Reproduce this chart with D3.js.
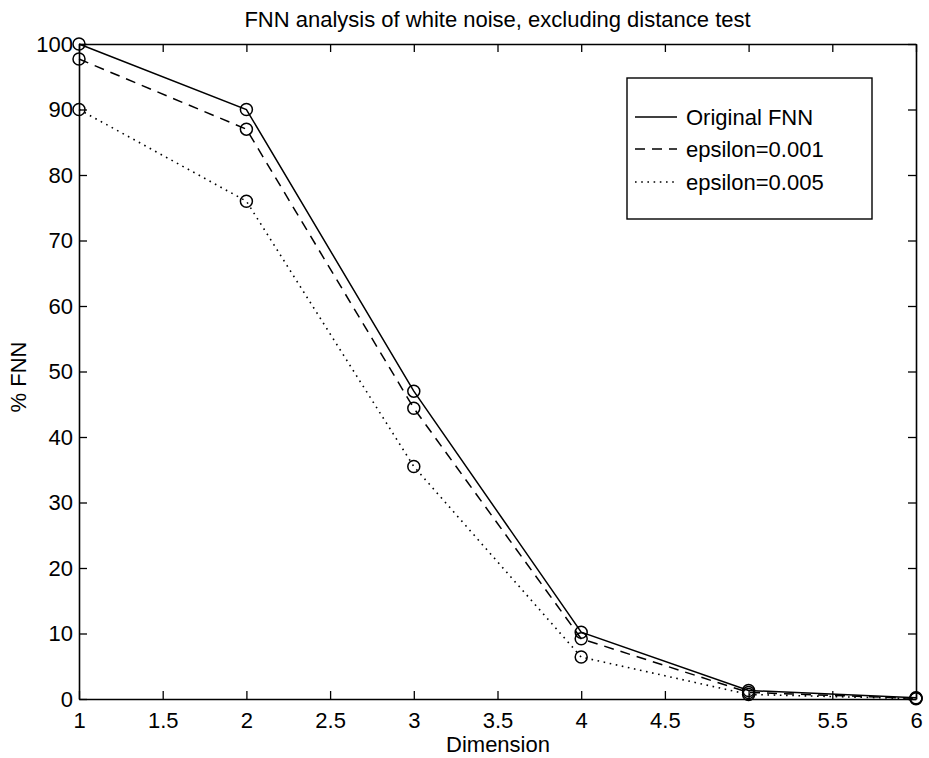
<!DOCTYPE html>
<html><head><meta charset="utf-8">
<script src="https://cdn.jsdelivr.net/npm/d3@7"></script>
<style>body{margin:0;background:#fff}svg{display:block}text{font-family:"Liberation Sans",Arial,Helvetica,sans-serif;fill:#000}</style>
</head><body>
<script>
const dimensions = [1, 2, 3, 4, 5, 6];
const originalFNN = [100, 90, 47, 10.2, 1.3, 0.2];
const eps001 = [97.7, 87, 44.4, 9.2, 1.0, 0.1];
const eps005 = [90, 76, 35.5, 6.4, 0.7, 0.05];
const seriesNames = ["Original FNN", "epsilon=0.001", "epsilon=0.005"];
const xTicks = [1, 1.5, 2, 2.5, 3, 3.5, 4, 4.5, 5, 5.5, 6];
const yTicks = [0, 10, 20, 30, 40, 50, 60, 70, 80, 90, 100];
const titleText = "FNN analysis of white noise, excluding distance test";
const xLabel = "Dimension";
const yLabel = "% FNN";

const W = 929, H = 758;
const L = 79, R = 916, T = 44, B = 699;
const fs = 22;
const svg = d3.select("body").append("svg").attr("width", W).attr("height", H);
const x = d3.scaleLinear().domain([1, 6]).range([L, R]);
const y = d3.scaleLinear().domain([0, 100]).range([B, T]);

// axes with inward ticks
const tk = 8;
const gB = svg.append("g").attr("transform", `translate(0,${B})`)
  .call(d3.axisBottom(x).tickValues(xTicks).tickSizeInner(-tk).tickSizeOuter(0).tickPadding(13).tickFormat(d3.format("")));
const gT = svg.append("g").attr("transform", `translate(0,${T})`)
  .call(d3.axisTop(x).tickValues(xTicks).tickSizeInner(-tk).tickSizeOuter(0).tickFormat(""));
const gL = svg.append("g").attr("transform", `translate(${L},0)`)
  .call(d3.axisLeft(y).tickValues(yTicks).tickSizeInner(-tk).tickSizeOuter(0).tickPadding(6).tickFormat(d3.format("")));
const gR = svg.append("g").attr("transform", `translate(${R},0)`)
  .call(d3.axisRight(y).tickValues(yTicks).tickSizeInner(-tk).tickSizeOuter(0).tickFormat(""));
[gB, gT, gL, gR].forEach(g => {
  g.select(".domain").attr("stroke", "#000").attr("stroke-width", 1.6);
  g.selectAll(".tick line").attr("stroke", "#000").attr("stroke-width", 1.3);
  g.selectAll("text").attr("font-size", fs).attr("fill", "#000")
    .style("font-family", '"Liberation Sans",Arial,Helvetica,sans-serif');
});
gB.selectAll(".tick text").attr("dy", "0.71em");

const styles = [
  {dash: null},
  {dash: "10,7"},
  {dash: "1.6,4.6"}
];
const allSeries = [originalFNN, eps001, eps005];
const line = d3.line().x((d, i) => x(dimensions[i])).y(d => y(d));
allSeries.forEach((s, k) => {
  svg.append("path").datum(s).attr("d", line).attr("fill", "none")
    .attr("stroke", "#000").attr("stroke-width", k === 2 ? 1.6 : 1.5)
    .attr("stroke-dasharray", styles[k].dash);
  svg.append("g").selectAll("circle").data(s).join("circle")
    .attr("cx", (d, i) => x(dimensions[i])).attr("cy", d => y(d)).attr("r", 6)
    .attr("fill", "none").attr("stroke", "#000").attr("stroke-width", 1.5);
});

// title and labels
svg.append("text").attr("x", (L + R) / 2).attr("y", 27).attr("text-anchor", "middle")
  .attr("font-size", fs).text(titleText);
svg.append("text").attr("x", 498).attr("y", 752).attr("text-anchor", "middle")
  .attr("font-size", fs).text(xLabel);
svg.append("text").attr("transform", `translate(26,377) rotate(-90)`)
  .attr("text-anchor", "middle").attr("font-size", fs).text(yLabel);

// legend
const lg = svg.append("g");
lg.append("rect").attr("x", 627).attr("y", 78).attr("width", 245).attr("height", 141)
  .attr("fill", "#fff").attr("stroke", "#000").attr("stroke-width", 1.4);
const rowsY = [117, 149, 182];
seriesNames.forEach((n, k) => {
  lg.append("line").attr("x1", 635).attr("x2", 677).attr("y1", rowsY[k]).attr("y2", rowsY[k])
    .attr("stroke", "#000").attr("stroke-width", 1.5).attr("stroke-dasharray", styles[k].dash);
  lg.append("text").attr("x", 686).attr("y", rowsY[k]).attr("dy", "0.36em")
    .attr("font-size", fs).text(n);
});
</script>
</body></html>
